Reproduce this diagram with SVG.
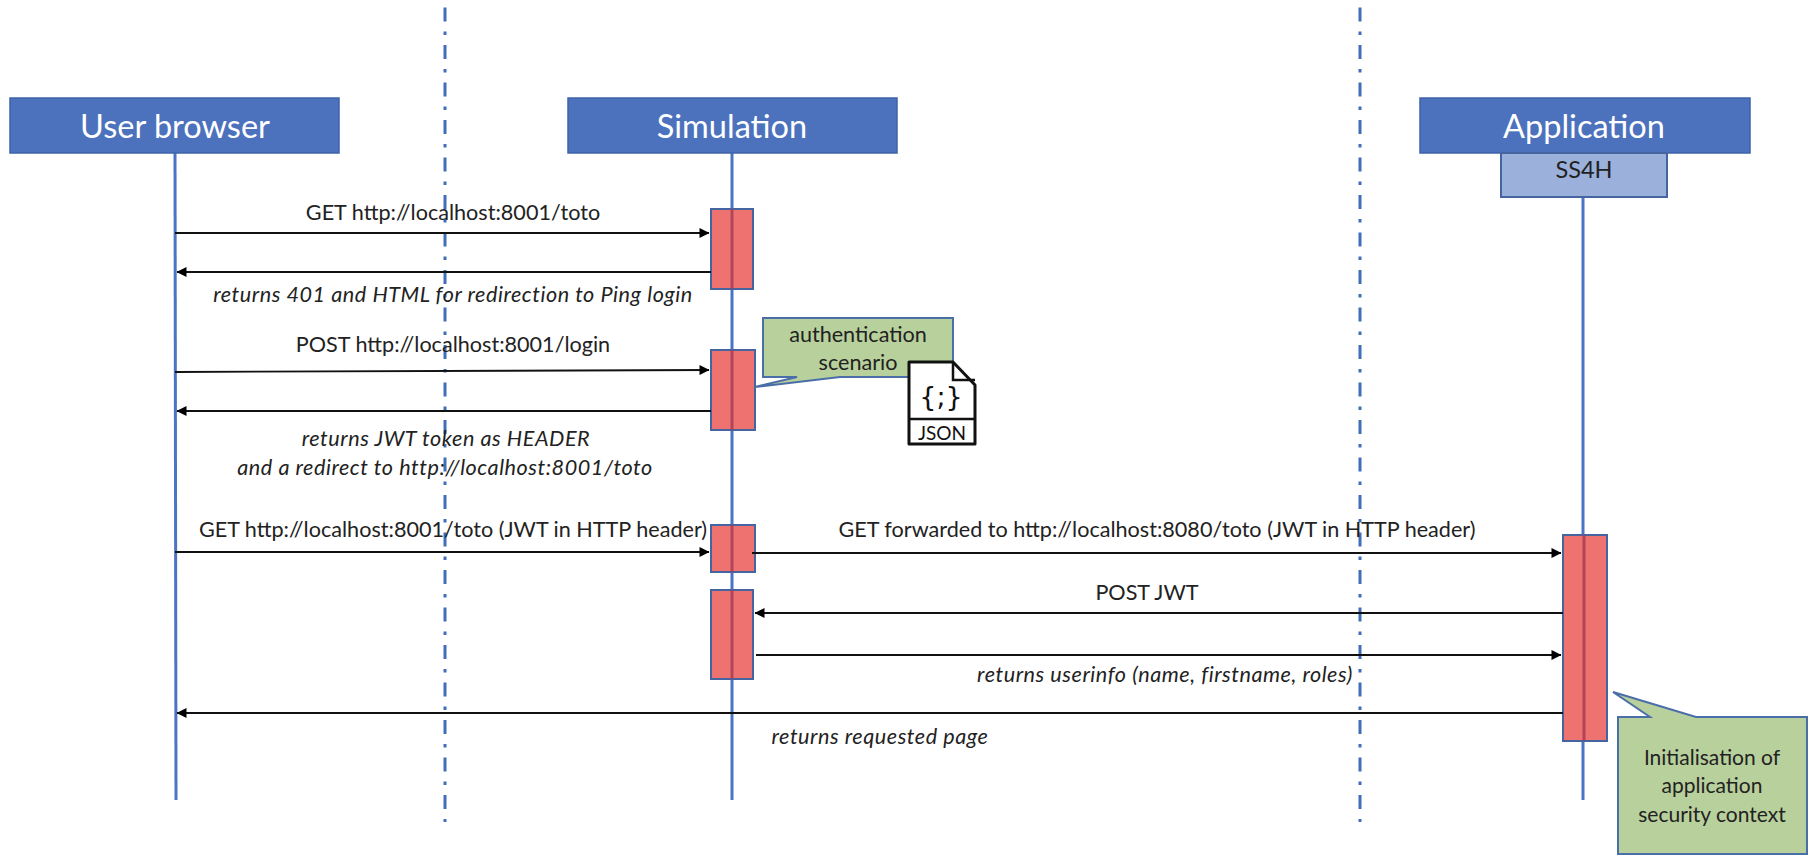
<svg xmlns="http://www.w3.org/2000/svg" width="1818" height="864" viewBox="0 0 1818 864">
<defs>
<marker id="ah" viewBox="0 0 10 10" refX="9.5" refY="5" markerWidth="11" markerHeight="10" markerUnits="userSpaceOnUse" orient="auto"><path d="M0 0L10 5L0 10Z" fill="#000"/></marker>
</defs>
<style>
text{font-family:Lato,"Liberation Sans",sans-serif;fill:#222;text-anchor:middle}
.hd rect{fill:#4c72bd;stroke:#3f63a8;stroke-width:1.5}
.hd text{fill:#fff;font-size:32.5px}
.life{stroke:#4a74c4;stroke-width:3;fill:none}
.sep{stroke:#3f6fb8;stroke-width:3;fill:none;stroke-dasharray:14 10 3.5 10}
.act{fill:#ee7370;stroke:#44659f;stroke-width:2}
.actline{stroke:#a33a55;stroke-width:3;opacity:.8}
.note{fill:#b8d09c;stroke:#4a6ea8;stroke-width:2}
.msg{stroke:#111;stroke-width:1.8;fill:none;marker-end:url(#ah)}
.lbl{font-size:21.6px}
.it{font-size:21.6px;font-style:italic;letter-spacing:.55px}
.nt{font-size:21px}
</style>
<rect width="1818" height="864" fill="#fff"/>
<g id="separators">
<line class="sep" x1="445" y1="7.5" x2="445" y2="822"/>
<line class="sep" x1="1360" y1="7.5" x2="1360" y2="822"/>
</g>
<g id="lifelines">
<line class="life" x1="175" y1="153" x2="176" y2="800"/>
<line class="life" x1="732" y1="153" x2="732" y2="800"/>
<line class="life" x1="1583" y1="197" x2="1583" y2="800"/>
</g>
<g id="user-browser" class="hd"><rect x="10" y="98" width="329" height="55"/><text x="175" y="138">User browser</text></g>
<g id="simulation" class="hd"><rect x="568" y="98" width="329" height="55"/><text x="732" y="138">Simulation</text></g>
<g id="application" class="hd"><rect x="1420" y="98" width="330" height="55"/><text x="1584" y="138">Application</text></g>
<g id="ss4h"><rect x="1501" y="153" width="166" height="44" fill="#9bb0db" stroke="#44659f" stroke-width="2"/><text x="1584" y="178" font-size="23.5">SS4H</text></g>
<g id="activation-1"><rect class="act" x="711" y="209" width="42" height="80"/><line class="actline" x1="732" y1="209" x2="732" y2="289"/></g>
<g id="activation-2"><rect class="act" x="711" y="350" width="44" height="80"/><line class="actline" x1="732" y1="350" x2="732" y2="430"/></g>
<g id="activation-3"><rect class="act" x="711" y="525" width="44" height="47"/><line class="actline" x1="732" y1="525" x2="732" y2="572"/></g>
<g id="activation-4"><rect class="act" x="711" y="590" width="42" height="89"/><line class="actline" x1="732" y1="590" x2="732" y2="679"/></g>
<g id="activation-app"><rect class="act" x="1563" y="535" width="44" height="206"/><line class="actline" x1="1584" y1="535" x2="1584" y2="741"/></g>
<g id="note-auth">
<path class="note" d="M763 318H953V377H840L755 387L797 377H763Z"/>
<text class="nt" style="font-size:21.6px" x="858" y="342">authentication</text>
<text class="nt" style="font-size:21.6px" x="858" y="370">scenario</text>
</g>
<g id="json-icon">
<path d="M909 362H953L975 385V444H909Z" fill="#fff" stroke="#111" stroke-width="3" stroke-linejoin="round"/>
<path d="M953 362V380H975M909 419H975" fill="none" stroke="#111" stroke-width="2.5"/>
<text x="941" y="406" style="font-family:'DejaVu Sans',sans-serif;font-size:27px;fill:#111">{;}</text>
<text x="942" y="440" style="font-size:19px;fill:#111">JSON</text>
</g>
<g id="note-init">
<path class="note" d="M1618 717H1650L1613 692L1696 717H1807V854H1618Z"/>
<text class="nt" x="1712" y="765">Initialisation of</text>
<text class="nt" x="1712" y="793">application</text>
<text class="nt" x="1712" y="822">security context</text>
</g>
<g id="connectors">
<line class="msg" x1="175" y1="233" x2="709" y2="233"/>
<line class="msg" x1="711" y1="272" x2="177" y2="272"/>
<line class="msg" x1="175" y1="372" x2="709" y2="370"/>
<line class="msg" x1="711" y1="411" x2="177" y2="411"/>
<line class="msg" x1="175" y1="552" x2="709" y2="552"/>
<line class="msg" x1="752" y1="553" x2="1561" y2="553"/>
<line class="msg" x1="1563" y1="613" x2="755" y2="613"/>
<line class="msg" x1="756" y1="655" x2="1561" y2="655"/>
<line class="msg" x1="1563" y1="713" x2="177" y2="713"/>
</g>
<g id="labels">
<text class="lbl" x="453" y="220">GET http://localhost:8001/toto</text>
<text class="it" x="453" y="302">returns 401 and HTML for redirection to Ping login</text>
<text class="lbl" x="453" y="352">POST http://localhost:8001/login</text>
<text class="it" x="446" y="446">returns JWT token as HEADER</text>
<text class="it" x="445" y="475">and a redirect to http://localhost:8001/toto</text>
<text class="lbl" x="453" y="537">GET http://localhost:8001/toto (JWT in HTTP header)</text>
<text class="lbl" x="1157" y="537">GET forwarded to http://localhost:8080/toto (JWT in HTTP header)</text>
<text class="lbl" x="1147" y="600">POST JWT</text>
<text class="it" x="1165" y="682">returns userinfo (name, firstname, roles)</text>
<text class="it" x="880" y="744">returns requested page</text>
</g>
</svg>
